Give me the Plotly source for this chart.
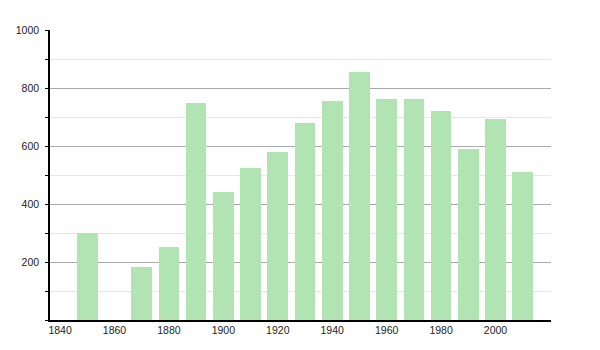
import plotly.graph_objects as go

years = [1850, 1870, 1880, 1890, 1900, 1910, 1920, 1930, 1940, 1950, 1960, 1970, 1980, 1990, 2000, 2010]
population = [301, 182, 252, 750, 440, 525, 578, 679, 756, 854, 763, 761, 719, 591, 694, 512]
x_tick_vals = [1840, 1860, 1880, 1900, 1920, 1940, 1960, 1980, 2000]
y_tick_vals = [200, 400, 600, 800, 1000]

fig = go.Figure()
fig.add_trace(go.Bar(
    x=years, y=population, width=7.6,
    marker=dict(color="rgb(177,228,178)", line=dict(width=0)),
    hoverinfo="x+y",
))

fig.update_layout(
    width=600, height=350,
    margin=dict(l=50, r=49, t=30, b=30),
    paper_bgcolor="white", plot_bgcolor="white",
    showlegend=False,
    font=dict(family="Liberation Sans, Arial, sans-serif", size=10.5, color="#222"),
    bargap=0,
)
fig.update_xaxes(
    range=[1836.3, 2020.4],
    tickvals=x_tick_vals, ticktext=[str(v) for v in x_tick_vals],
    showgrid=False, zeroline=False,
    showline=True, linecolor="black", linewidth=1.5,
    ticks="", ticklabelstandoff=0,
)
fig.update_yaxes(
    range=[0, 1000],
    tickvals=y_tick_vals, ticktext=[str(v) for v in y_tick_vals],
    showgrid=True, gridcolor="#aaaaaa", gridwidth=1,
    zeroline=False,
    showline=True, linecolor="black", linewidth=1.5,
    ticks="outside", ticklen=3, tickcolor="black",
    ticklabelstandoff=4,
    minor=dict(dtick=100, tick0=0, showgrid=True, gridcolor="#e6e6e6", gridwidth=1,
               ticks="outside", ticklen=3, tickcolor="black"),
)

fig.write_html("out.html")
